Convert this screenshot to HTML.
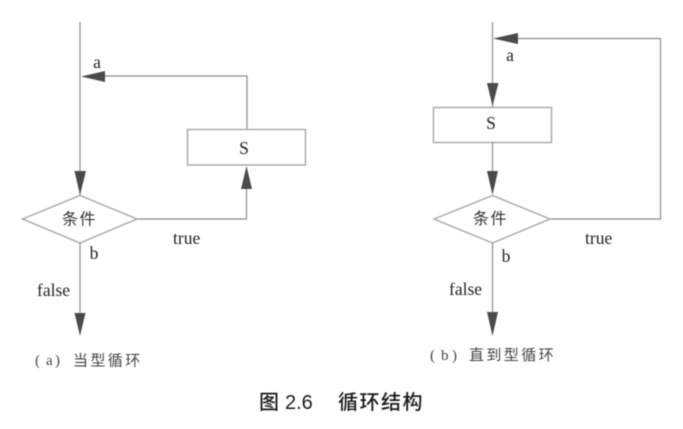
<!DOCTYPE html>
<html>
<head>
<meta charset="utf-8">
<style>
html,body{margin:0;padding:0;background:#fff;}
svg{display:block;filter:blur(0.4px);}
.l{stroke:#8c8c8c;stroke-width:1.2;fill:none;}
.b{stroke:#a6a6a6;stroke-width:1.4;fill:#fff;}
.h{fill:#4a4a4a;}
text{fill:#222;}
.s{font-family:"Liberation Serif","Noto Serif CJK SC",serif;font-size:17.5px;}
.k{font-family:"Liberation Serif","Noto Sans CJK SC",sans-serif;font-size:16px;letter-spacing:1.5px;fill:#333;}
.c{font-family:"Liberation Serif","Noto Sans CJK SC",sans-serif;font-size:15px;letter-spacing:2.4px;fill:#444;}
.p{font-family:"Liberation Serif",serif;font-size:15px;fill:#444;}
.t{font-family:"Liberation Sans","Noto Sans CJK SC",sans-serif;font-size:20px;font-weight:500;fill:#1a1a1a;}
</style>
</head>
<body>
<svg xmlns="http://www.w3.org/2000/svg" width="683" height="429" viewBox="0 0 683 429">
<rect width="683" height="429" fill="#fff"/>

<!-- (a) -->
<path class="l" d="M80 22V196"/>
<path class="l" d="M105 76H247V129"/>
<polygon class="h" points="81,76.500 105,71 105,82"/>
<polygon class="h" points="74.500,171 86,171 80,195"/>
<rect class="b" x="187.500" y="129.500" width="118" height="35.500"/>
<path class="l" d="M246.500 189V219H137"/>
<polygon class="h" points="246.500,166 241,189 252,189"/>
<polygon class="b" points="22.500,219 80,195.500 137,219 80,243"/>
<path class="l" d="M80 243V314"/>
<polygon class="h" points="74.500,313 85.500,313 80,336"/>

<text class="s" x="97" y="68" text-anchor="middle">a</text>
<text class="s" x="244" y="154" text-anchor="middle">S</text>
<text class="k" x="62" y="224.500">条件</text>
<text class="s" x="173" y="244">true</text>
<text class="s" x="94" y="259" text-anchor="middle">b</text>
<text class="s" x="37" y="296">false</text>
<text class="p" x="35" y="365">(</text>
<text class="p" x="46" y="365">a</text>
<text class="p" x="55" y="365">)</text>
<text class="c" x="73" y="365.500">当型循环</text>

<!-- (b) -->
<path class="l" d="M492.500 22V107"/>
<path class="l" d="M518 38.500H660.500V219H550"/>
<polygon class="h" points="493,38.500 518,33 518,44"/>
<polygon class="h" points="487,83 498.500,83 492.500,106"/>
<rect class="b" x="433.500" y="107.500" width="118" height="35"/>
<path class="l" d="M492.500 142V172"/>
<polygon class="h" points="487,171 498,171 492.500,195"/>
<polygon class="b" points="434,219 492.500,195.500 550,219 492.500,243"/>
<path class="l" d="M492.500 243V314"/>
<polygon class="h" points="487,312 498,312 492.500,336"/>

<text class="s" x="510" y="61" text-anchor="middle">a</text>
<text class="s" x="491" y="129" text-anchor="middle">S</text>
<text class="k" x="473" y="224">条件</text>
<text class="s" x="585" y="244">true</text>
<text class="s" x="506" y="262" text-anchor="middle">b</text>
<text class="s" x="449" y="295">false</text>
<text class="p" x="430" y="360">(</text>
<text class="p" x="441" y="360">b</text>
<text class="p" x="452" y="360">)</text>
<text class="c" x="469" y="360">直到型循环</text>

<text class="t" x="259" y="409">图</text>
<text class="t" x="285" y="409">2.6</text>
<text class="t" x="338" y="409" letter-spacing="1.500">循环结构</text>
</svg>
</body>
</html>
